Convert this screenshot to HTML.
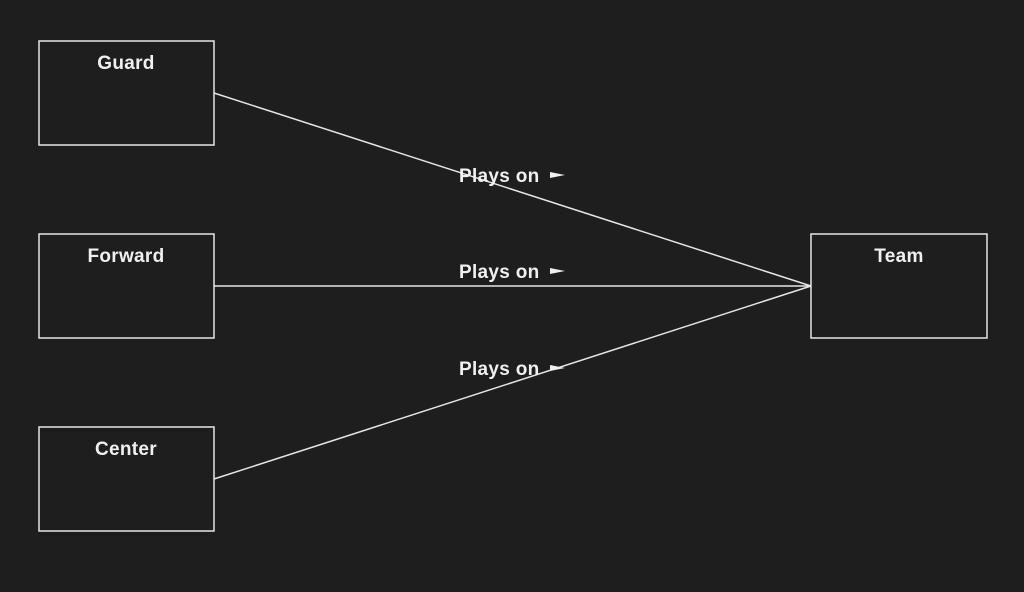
<!DOCTYPE html>
<html><head><meta charset="utf-8"><style>
html,body{margin:0;padding:0;background:#1e1e1e;}
svg{display:block}
text{font-family:"Liberation Sans","DejaVu Sans",sans-serif;fill:#f0f0f0;font-weight:bold;letter-spacing:0.3px;}
</style></head><body>
<svg width="1024" height="592" viewBox="0 0 1024 592">
<rect width="1024" height="592" fill="#1e1e1e"/>
<g fill="none" stroke="#e6e6e6" stroke-width="1.5">
<rect x="39" y="41" width="175" height="104"/>
<rect x="39" y="234" width="175" height="104"/>
<rect x="39" y="427" width="175" height="104"/>
<rect x="811" y="234" width="176" height="104"/>
<line x1="214" y1="93" x2="811" y2="286"/>
<line x1="214" y1="286" x2="811" y2="286"/>
<line x1="214" y1="479" x2="811" y2="286"/>
</g>
<g font-size="19" text-anchor="middle">
<text x="126" y="69">Guard</text>
<text x="126" y="262">Forward</text>
<text x="126" y="455">Center</text>
<text x="899" y="262">Team</text>
</g>
<g font-size="19">
<text x="459" y="182">Plays on</text>
<text x="459" y="278">Plays on</text>
<text x="459" y="375">Plays on</text>
</g>
<g fill="#f0f0f0">
<polygon points="550,172 565,175 550,178"/>
<polygon points="550,268 565,271 550,274"/>
<polygon points="550,365 565,368 550,371"/>
</g>
</svg>
</body></html>
